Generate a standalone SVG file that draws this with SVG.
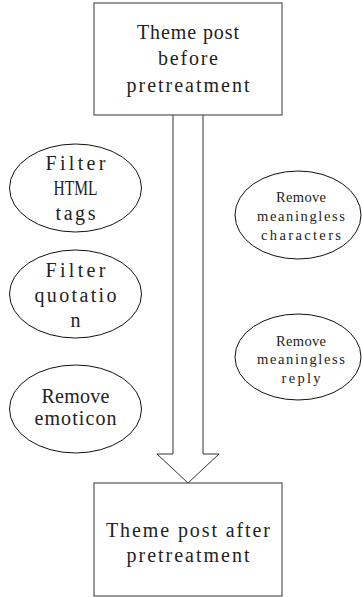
<svg xmlns="http://www.w3.org/2000/svg" width="362" height="597" viewBox="0 0 362 597">
<style>
.box{fill:#fff;stroke:#555;stroke-width:1.2}
.ell{fill:#fff;stroke:#111;stroke-width:1}
.t{font-family:"Liberation Serif",serif;font-size:20px;fill:#222;text-anchor:middle}
.s{font-family:"Liberation Serif",serif;font-size:14.5px;fill:#222;text-anchor:middle}
</style>
<rect width="362" height="597" fill="#fff"/>
<g id="connectors">
<path d="M173,115 V454 H157 L188,483 L219,454 H203 V115" fill="#fff" stroke="#333" stroke-width="1"/>
</g>
<g id="top">
<rect class="box" x="94" y="3" width="188" height="112"/>
<text class="t" x="188" y="39" textLength="102" lengthAdjust="spacing">Theme post</text>
<text class="t" x="188" y="65" textLength="60" lengthAdjust="spacing">before</text>
<text class="t" x="188" y="92" textLength="123" lengthAdjust="spacing">pretreatment</text>
</g>
<g id="bottom">
<rect class="box" x="94" y="483" width="188" height="113"/>
<text class="t" x="188" y="537" textLength="164" lengthAdjust="spacing">Theme post after</text>
<text class="t" x="188" y="562" textLength="123" lengthAdjust="spacing">pretreatment</text>
</g>
<g id="html">
<ellipse class="ell" cx="75.5" cy="188" rx="66" ry="44"/>
<text class="t" x="75.5" y="170" textLength="60" lengthAdjust="spacing">Filter</text>
<text class="t" x="75.5" y="195" textLength="44" lengthAdjust="spacingAndGlyphs">HTML</text>
<text class="t" x="75.5" y="220" textLength="40" lengthAdjust="spacing">tags</text>
</g>
<g id="quotation">
<ellipse class="ell" cx="75.5" cy="294" rx="66" ry="44"/>
<text class="t" x="75.5" y="277" textLength="60" lengthAdjust="spacing">Filter</text>
<text class="t" x="75.5" y="302" textLength="82" lengthAdjust="spacing">quotatio</text>
<text class="t" x="75.5" y="327">n</text>
</g>
<g id="emoticon">
<ellipse class="ell" cx="75.5" cy="409" rx="66" ry="44"/>
<text class="t" x="75.5" y="403" textLength="68" lengthAdjust="spacing">Remove</text>
<text class="t" x="75.5" y="425" textLength="82" lengthAdjust="spacing">emoticon</text>
</g>
<g id="characters">
<ellipse class="ell" cx="298" cy="215" rx="63" ry="44"/>
<text class="s" x="301" y="202" textLength="50" lengthAdjust="spacing">Remove</text>
<text class="s" x="301" y="221" textLength="88" lengthAdjust="spacing">meaningless</text>
<text class="s" x="301" y="240" textLength="80" lengthAdjust="spacing">characters</text>
</g>
<g id="reply">
<ellipse class="ell" cx="298" cy="357" rx="63" ry="43"/>
<text class="s" x="301" y="346" textLength="50" lengthAdjust="spacing">Remove</text>
<text class="s" x="301" y="364" textLength="88" lengthAdjust="spacing">meaningless</text>
<text class="s" x="301" y="383" textLength="39" lengthAdjust="spacing">reply</text>
</g>
</svg>
